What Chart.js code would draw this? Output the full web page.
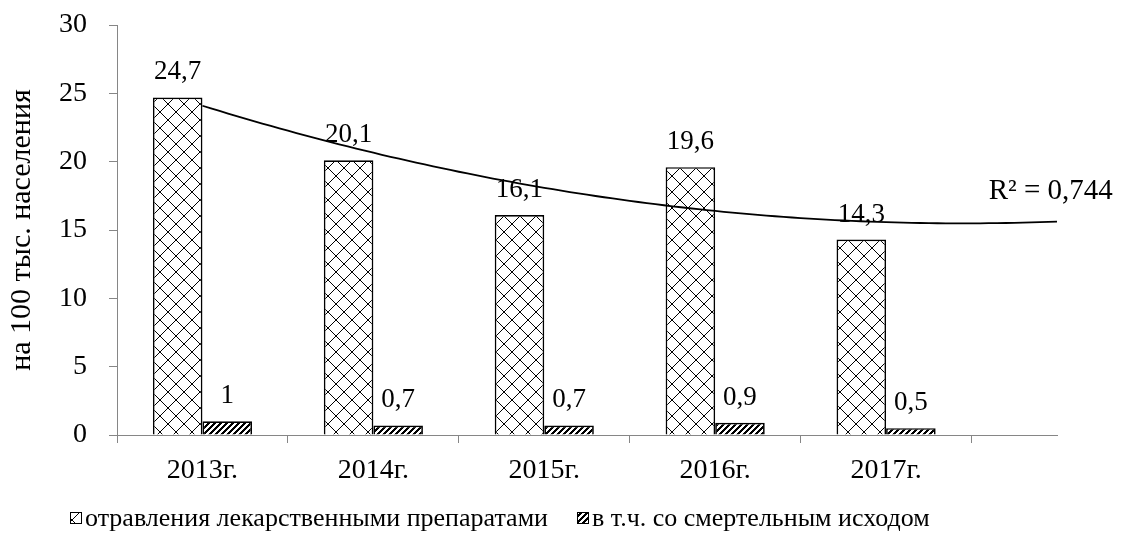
<!DOCTYPE html>
<html>
<head>
<meta charset="utf-8">
<script src="https://cdn.jsdelivr.net/npm/chart.js@4/dist/chart.umd.min.js"></script>
<style>
  html, body { margin: 0; padding: 0; background: #fff; }
  #wrap { width: 1130px; height: 537px; position: relative; }
</style>
</head>
<body>
<div id="wrap"><canvas id="chart"></canvas></div>
<script>
const years = ['2013г.', '2014г.', '2015г.', '2016г.', '2017г.'];
const poisonings = [24.7, 20.1, 16.1, 19.6, 14.3];
const fatal = [1, 0.7, 0.7, 0.9, 0.5];
const seriesNames = ['отравления лекарственными препаратами', 'в т.ч. со смертельным исходом'];
const yTicks = [0, 5, 10, 15, 20, 25, 30];
const yTitle = 'на 100 тыс. населения';
const r2Label = 'R² = 0,744';

const FONT = 'Liberation Serif, Times New Roman, serif';
const AXIS = '#868686';

// polynomial (order 2) trend, least squares over x = 0..n-1
function polyFit2(ys) {
  const S = [[0, 0, 0], [0, 0, 0], [0, 0, 0]];
  const T = [0, 0, 0];
  ys.forEach((y, x) => {
    const p = [1, x, x * x];
    for (let i = 0; i < 3; i++) {
      T[i] += p[i] * y;
      for (let j = 0; j < 3; j++) S[i][j] += p[i] * p[j];
    }
  });
  for (let k = 0; k < 3; k++) {
    for (let i = k + 1; i < 3; i++) {
      const f = S[i][k] / S[k][k];
      for (let j = k; j < 3; j++) S[i][j] -= f * S[k][j];
      T[i] -= f * T[k];
    }
  }
  const c = [0, 0, 0];
  for (let i = 2; i >= 0; i--) {
    let s = T[i];
    for (let j = i + 1; j < 3; j++) s -= S[i][j] * c[j];
    c[i] = s / S[i][i];
  }
  return (x) => c[0] + c[1] * x + c[2] * x * x;
}

const trend = polyFit2(poisonings);
const trendEnd = years.length; // forecast half a period past the last category edge
const trendPoints = [];
for (let k = 0; k <= trendEnd * 20; k++) {
  const x = k / 20;
  trendPoints.push({ x: x, y: trend(x) });
}

const canvas = document.getElementById('chart');
const c2d = canvas.getContext('2d');

function makePattern(size, paint) {
  const tile = document.createElement('canvas');
  tile.width = tile.height = size;
  const g = tile.getContext('2d');
  g.fillStyle = '#fff';
  g.fillRect(0, 0, size, size);
  g.fillStyle = '#000';
  for (let y = 0; y < size; y++)
    for (let x = 0; x < size; x++)
      if (paint(x, y)) g.fillRect(x, y, 1, 1);
  return c2d.createPattern(tile, 'repeat');
}

const diamondFill = makePattern(16, (x, y) => x === y || x === 15 - y);
const stripeFill = makePattern(6, (x, y) => (x + y) % 6 < 3);
const fills = [diamondFill, stripeFill];

const fmt = (v) => String(v).replace('.', ',');

const barLabels = {
  id: 'barLabels',
  afterDatasetsDraw(chart) {
    const ctx = chart.ctx;
    ctx.save();
    ctx.font = '27px ' + FONT;
    ctx.fillStyle = '#000';
    ctx.textAlign = 'center';
    ctx.textBaseline = 'alphabetic';
    [0, 1].forEach((di) => {
      const meta = chart.getDatasetMeta(di);
      meta.data.forEach((el, i) => {
        const v = chart.data.datasets[di].data[i].y;
        ctx.fillText(fmt(v), el.x, el.y - 18);
      });
    });
    // R² of the trend
    const xs = chart.scales.x, ys = chart.scales.y;
    ctx.font = '29px ' + FONT;
    ctx.textAlign = 'left';
    ctx.fillText(r2Label, xs.getPixelForValue(years.length - 0.4), ys.getPixelForValue(trend(trendEnd)) - 23);
    ctx.restore();
  }
};

const bottomLegend = {
  id: 'bottomLegend',
  afterDraw(chart) {
    const ctx = chart.ctx;
    const box = 12, gap = 3, between = 29, cy = 518, x0 = 70;
    ctx.save();
    ctx.font = '26px ' + FONT;
    let x = x0;
    seriesNames.forEach((t, i) => {
      ctx.fillStyle = fills[i];
      ctx.fillRect(x, cy - box / 2, box, box);
      ctx.strokeStyle = '#000';
      ctx.lineWidth = 1;
      ctx.strokeRect(x + 0.5, cy - box / 2 + 0.5, box - 1, box - 1);
      x += box + gap;
      ctx.fillStyle = '#000';
      ctx.textBaseline = 'middle';
      ctx.textAlign = 'left';
      ctx.fillText(t, x, cy + 1);
      x += ctx.measureText(t).width + between;
    });
    ctx.restore();
  }
};

new Chart(canvas, {
  type: 'bar',
  data: {
    datasets: [
      {
        label: seriesNames[0],
        data: poisonings.map((v, i) => ({ x: i, y: v })),
        backgroundColor: diamondFill,
        borderColor: '#000',
        borderWidth: 1.7,
        order: 1
      },
      {
        label: seriesNames[1],
        data: fatal.map((v, i) => ({ x: i, y: v })),
        backgroundColor: stripeFill,
        borderColor: '#000',
        borderWidth: 1.7,
        order: 1
      },
      {
        type: 'line',
        label: 'trend',
        data: trendPoints,
        borderColor: '#000',
        borderWidth: 1.8,
        pointRadius: 0,
        fill: false,
        tension: 0,
        order: 0
      }
    ]
  },
  options: {
    responsive: true,
    maintainAspectRatio: false,
    animation: false,
    layout: { padding: { left: 0, right: 73, top: 25, bottom: 50 } },
    // tick spacing is half a category, so the group spans 1.16 of it
    datasets: { bar: { barPercentage: 1, categoryPercentage: 1.16 } },
    plugins: { legend: { display: false }, tooltip: { enabled: false } },
    scales: {
      x: {
        type: 'linear',
        min: -0.5,
        max: years.length,
        offset: false,
        afterBuildTicks: (s) => {
          const t = [];
          years.forEach((_, i) => { t.push({ value: i - 0.5 }, { value: i }); });
          t.push({ value: years.length - 0.5 });
          s.ticks = t;
        },
        afterFit: (s) => { s.height = 52; s.paddingLeft = 0; s.paddingRight = 0; },
        grid: {
          offset: false,
          drawOnChartArea: false,
          tickLength: 8,
          color: AXIS,
          tickColor: (ctx) => (ctx.tick && Number.isInteger(ctx.tick.value) ? 'rgba(0,0,0,0)' : AXIS)
        },
        border: { color: AXIS, width: 1 },
        ticks: {
          autoSkip: false,
          maxRotation: 0,
          padding: 11,
          color: '#000',
          font: { family: FONT, size: 28 },
          callback: (v) => (Number.isInteger(v) ? years[v] : '')
        }
      },
      y: {
        min: 0,
        max: 30,
        afterBuildTicks: (s) => { s.ticks = yTicks.map((v) => ({ value: v })); },
        afterFit: (s) => { s.width = 117; s.paddingTop = 0; s.paddingBottom = 0; },
        grid: { drawOnChartArea: false, tickLength: 8, color: AXIS },
        border: { color: AXIS, width: 1 },
        ticks: { padding: 22, color: '#000', font: { family: FONT, size: 28 } },
        title: {
          display: true,
          text: yTitle,
          color: '#000',
          font: { family: FONT, size: 30 },
          padding: { top: 4, bottom: 0 }
        }
      }
    }
  },
  plugins: [barLabels, bottomLegend]
});
</script>
</body>
</html>
